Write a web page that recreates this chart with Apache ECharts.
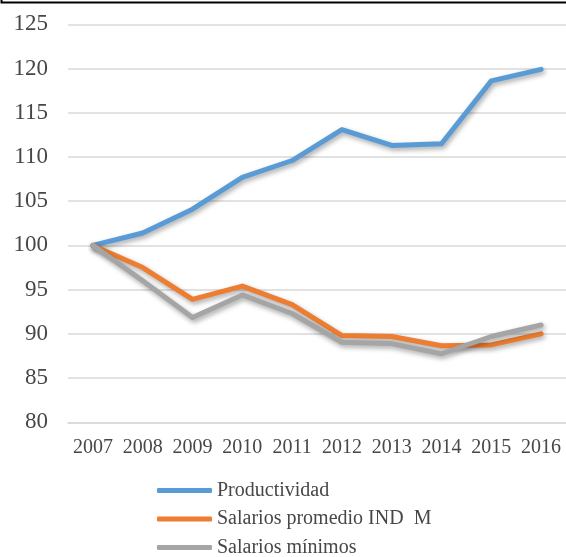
<!DOCTYPE html>
<html>
<head>
<meta charset="utf-8">
<script src="https://cdn.jsdelivr.net/npm/echarts@6/dist/echarts.min.js"></script>
<style>
html,body{margin:0;padding:0;background:#fff;}
#chart{width:566px;height:557px;}
</style>
</head>
<body>
<div id="chart"></div>
<script>
const years = ['2007','2008','2009','2010','2011','2012','2013','2014','2015','2016'];
const productividad = [100, 101.4, 104.1, 107.7, 109.6, 113.1, 111.3, 111.5, 118.6, 119.9];
const salariosPromedio = [100, 97.5, 93.9, 95.4, 93.3, 89.8, 89.7, 88.65, 88.75, 90.0];
const salariosMinimos = [100, 96.0, 91.85, 94.4, 92.3, 89.05, 88.9, 87.75, 89.7, 91.0];
const seriesNames = ['Productividad', 'Salarios promedio IND  M', 'Salarios mínimos'];
const colors = ['#5B9BD5', '#ED7D31', '#A5A5A5'];

const font = '"Liberation Serif", "DejaVu Serif", serif';
const textColor = '#474747';
const chart = echarts.init(document.getElementById('chart'), null, {renderer: 'canvas'});

function mkSeries(name, data, color) {
  return {
    name: name, type: 'line', data: data, symbol: 'none', smooth: false,
    lineStyle: {width: 5, color: color, cap: 'round', join: 'round',
      shadowColor: 'rgba(0,0,0,0.35)', shadowBlur: 5, shadowOffsetX: 1.5, shadowOffsetY: 2.5},
    itemStyle: {color: color},
    emphasis: {disabled: true}
  };
}

chart.setOption({
  animation: false,
  backgroundColor: '#fff',
  color: colors,
  grid: {left: 68, top: 24.3, width: 500, height: 398, containLabel: false},
  xAxis: {
    type: 'category', data: years, boundaryGap: true,
    axisLine: {show: true, lineStyle: {color: '#D9D9D9', width: 1.5}},
    axisTick: {show: false},
    axisLabel: {color: textColor, fontFamily: font, fontSize: 20, margin: 15, interval: 0, hideOverlap: false}
  },
  yAxis: {
    type: 'value', min: 80, max: 125, interval: 5,
    axisLine: {show: false}, axisTick: {show: false},
    splitLine: {lineStyle: {color: '#D9D9D9', width: 1.5}},
    axisLabel: {color: textColor, fontFamily: font, fontSize: 23, margin: 20}
  },
  legend: {
    orient: 'vertical', left: 157, top: 480.5, height: 100, itemGap: 8.5,
    itemWidth: 55, itemHeight: 5, icon: 'roundRect', padding: 0,
    data: seriesNames,
    textStyle: {color: textColor, fontFamily: font, fontSize: 20, lineHeight: 20}
  },
  graphic: [{
    type: 'rect', shape: {x: 1.5, y: -20, width: 580, height: 22.5},
    style: {fill: 'none', stroke: '#000', lineWidth: 2}
  }],
  series: [
    mkSeries(seriesNames[0], productividad, colors[0]),
    mkSeries(seriesNames[1], salariosPromedio, colors[1]),
    mkSeries(seriesNames[2], salariosMinimos, colors[2])
  ]
});
</script>
</body>
</html>
